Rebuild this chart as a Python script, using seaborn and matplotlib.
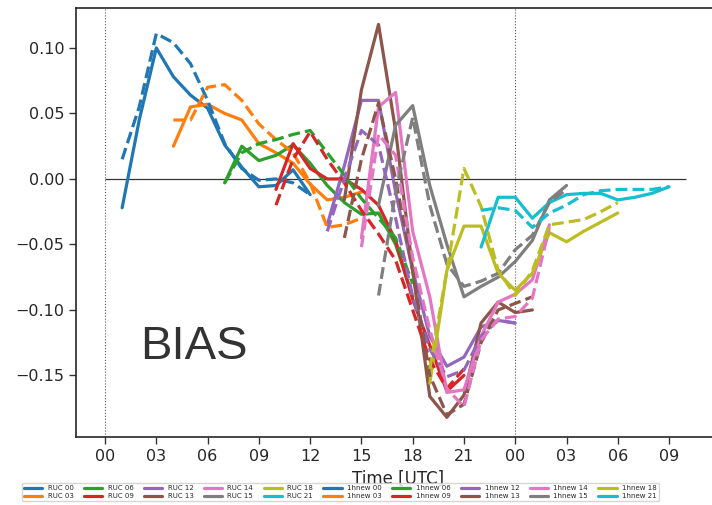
import matplotlib
matplotlib.use("Agg")
import matplotlib.pyplot as plt
import seaborn as sns
import numpy as np
import pandas as pd
from matplotlib.lines import Line2D

# ---- data ----
init_hours = [0, 3, 6, 9, 12, 13, 14, 15, 18, 21]
run_labels = ["00", "03", "06", "09", "12", "13", "14", "15", "18", "21"]

ruc_00 = [-0.022, 0.045, 0.100, 0.078, 0.064, 0.054, 0.026, 0.009, -0.006, -0.005, 0.007, -0.012]
ruc_03 = [0.025, 0.055, 0.057, 0.050, 0.045, 0.027, 0.020, 0.012, -0.004, -0.016, -0.014, -0.010]
ruc_06 = [-0.003, 0.025, 0.014, 0.018, 0.026, 0.012, -0.005, -0.018, -0.027, -0.026, -0.050, -0.090]
ruc_09 = [-0.008, 0.027, 0.008, 0.000, 0.000, -0.008, -0.020, -0.047, -0.092, -0.127, -0.162, -0.150]
ruc_12 = [-0.035, 0.010, 0.060, 0.060, -0.010, -0.070, -0.120, -0.143, -0.136, -0.113, -0.108, -0.110]
ruc_13 = [-0.016, 0.068, 0.118, 0.037, -0.070, -0.166, -0.182, -0.165, -0.110, -0.094, -0.102, -0.100]
ruc_14 = [-0.045, 0.055, 0.066, -0.040, -0.090, -0.163, -0.161, -0.120, -0.094, -0.088, -0.077, -0.035]
ruc_15 = [-0.020, 0.041, 0.056, -0.005, -0.050, -0.090, -0.082, -0.075, -0.063, -0.047, -0.016, -0.005]
ruc_18 = [-0.156, -0.070, -0.036, -0.036, -0.072, -0.085, -0.072, -0.041, -0.048, -0.040, -0.033, -0.026]
ruc_21 = [-0.052, -0.014, -0.014, -0.030, -0.018, -0.012, -0.011, -0.011, -0.016, -0.014, -0.011, -0.006]

new_00 = [0.015, 0.055, 0.111, 0.104, 0.088, 0.060, 0.027, 0.008, -0.001, 0.000, -0.003, -0.012]
new_03 = [0.045, 0.045, 0.070, 0.072, 0.060, 0.042, 0.030, 0.020, -0.003, -0.037, -0.035, -0.030]
new_06 = [-0.003, 0.020, 0.027, 0.030, 0.034, 0.037, 0.020, 0.003, -0.015, -0.030, -0.045, -0.080]
new_09 = [-0.020, 0.015, 0.036, 0.015, -0.003, -0.024, -0.042, -0.062, -0.100, -0.138, -0.160, -0.145]
new_12 = [-0.040, 0.000, 0.037, 0.026, -0.030, -0.090, -0.130, -0.151, -0.146, -0.120, -0.108, -0.110]
new_13 = [-0.045, 0.015, 0.058, 0.000, -0.070, -0.150, -0.180, -0.172, -0.125, -0.100, -0.095, -0.090]
new_14 = [-0.052, 0.034, 0.018, -0.060, -0.115, -0.160, -0.174, -0.123, -0.107, -0.105, -0.091, -0.037]
new_15 = [-0.089, -0.010, 0.047, -0.020, -0.065, -0.082, -0.078, -0.072, -0.054, -0.043, -0.018, -0.008]
new_18 = [-0.145, -0.070, 0.008, -0.021, -0.070, -0.089, -0.070, -0.035, -0.033, -0.031, -0.025, -0.018]
new_21 = [-0.024, -0.022, -0.024, -0.037, -0.026, -0.020, -0.012, -0.009, -0.008, -0.008, -0.008, -0.006]

ruc_series = [ruc_00, ruc_03, ruc_06, ruc_09, ruc_12, ruc_13, ruc_14, ruc_15, ruc_18, ruc_21]
new_series = [new_00, new_03, new_06, new_09, new_12, new_13, new_14, new_15, new_18, new_21]

xtick_hours = [0, 3, 6, 9, 12, 15, 18, 21, 24, 27, 30, 33]
xtick_labels = ["00", "03", "06", "09", "12", "15", "18", "21", "00", "03", "06", "09"]
ytick_vals = [-0.15, -0.10, -0.05, 0.00, 0.05, 0.10]

# ---- plot ----
sns.set_style("ticks")
plt.rcParams['font.family'] = ['DejaVu Sans']
colors = sns.color_palette("tab10", 10)

fig = plt.figure(figsize=(7.12, 5.05), dpi=100)
ax = fig.add_axes([76/712, 68/505, 644/712, 429/505])

ax.axvline(0, color="0.35", lw=0.8, ls=":", zorder=0)
ax.axvline(24, color="0.35", lw=0.8, ls=":", zorder=0)
ax.hlines(0, 0, 34, color="0.2", lw=0.9, zorder=1)

for model, series_list, ls in [("RUC", ruc_series, "-"), ("1hnew", new_series, "--")]:
    for lab, h0, vals, col in zip(run_labels, init_hours, series_list, colors):
        hrs = np.arange(h0 + 1, h0 + 1 + len(vals))
        df = pd.DataFrame({"hour": hrs, "bias": vals})
        sns.lineplot(data=df, x="hour", y="bias", ax=ax, color=col, lw=2.3,
                     linestyle=ls, estimator=None)

ax.set_xlim(-1.7, 35.98)
ax.set_ylim(-0.197, 0.1305)
ax.set_xticks(xtick_hours)
ax.set_xticklabels(xtick_labels)
ax.set_yticks(ytick_vals)
ax.set_yticklabels([f"{v:.2f}".replace("-", "\u2212") for v in ytick_vals])
ax.tick_params(labelsize=11.5, length=5, width=1, color="0.2")
for s in ax.spines.values():
    s.set_linewidth(1.2)
    s.set_color("0.15")
ax.set_xlabel("Time [UTC]", fontsize=12)
ax.set_ylabel("")
ax.text(5.2, -0.128, "BIAS", fontsize=34, color="#333333", ha="center", va="center",
        family=["Liberation Sans", "DejaVu Sans"])

handles = []
labels = []
for model in ["RUC", "1hnew"]:
    for lab, col in zip(run_labels, colors):
        handles.append(Line2D([], [], color=col, lw=2.3))
        labels.append(f"{model} {lab}")
fig.legend(handles, labels, ncol=10, loc="upper left",
           bbox_to_anchor=(22/712, 1 - 483/505), borderaxespad=0,
           fontsize=5, handlelength=2.6, handletextpad=0.8, columnspacing=1.5,
           frameon=True, borderpad=0.3, labelspacing=0.3)

fig.savefig("out.png", dpi=100)
